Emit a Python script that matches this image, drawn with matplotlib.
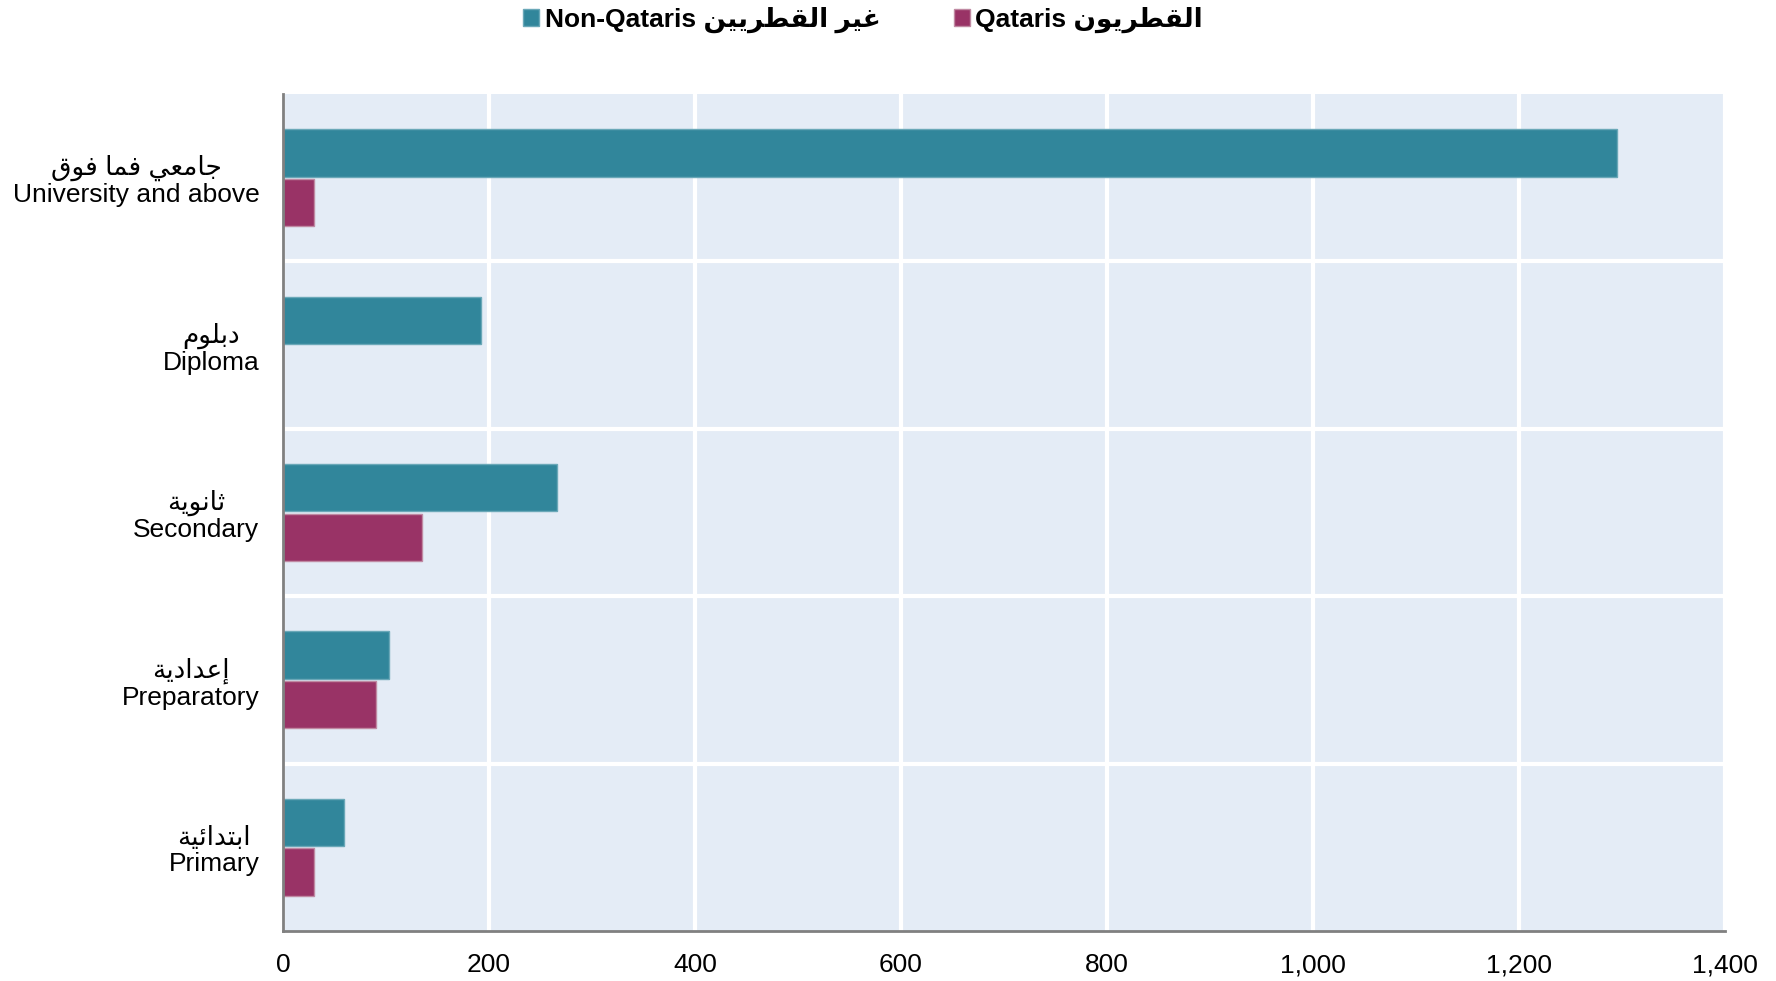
import matplotlib
matplotlib.use("Agg")
import matplotlib.pyplot as plt
from matplotlib.ticker import FuncFormatter, FixedLocator
import numpy as np

# data (top to bottom)
cats_en = ["University and above", "Diploma", "Secondary", "Preparatory", "Primary"]
cats_ar = ["جامعي فما فوق", "دبلوم", "ثانوية", "إعدادية", "ابتدائية"]
non_qataris = [1295, 192, 266, 103, 59]
qataris = [30, 0, 135, 90, 30]
legend_en = ["Non-Qataris", "Qataris"]
legend_ar = ["غير القطريين", "القطريون"]
xticks = [0, 200, 400, 600, 800, 1000, 1200, 1400]

teal = "#31869B"
plum = "#993366"
bg = "#E4ECF6"

# minimal arabic shaping (presentation forms + visual order)
FORMS = {
    "ا": (0xFE8D, 0xFE8E), "إ": (0xFE87, 0xFE88), "د": (0xFEA9, 0xFEAA),
    "ر": (0xFEAD, 0xFEAE), "ة": (0xFE93, 0xFE94), "و": (0xFEED, 0xFEEE),
    "ب": (0xFE8F, 0xFE90, 0xFE91, 0xFE92), "ت": (0xFE95, 0xFE96, 0xFE97, 0xFE98),
    "ث": (0xFE99, 0xFE9A, 0xFE9B, 0xFE9C), "ج": (0xFE9D, 0xFE9E, 0xFE9F, 0xFEA0),
    "ط": (0xFEC1, 0xFEC2, 0xFEC3, 0xFEC4), "ع": (0xFEC9, 0xFECA, 0xFECB, 0xFECC),
    "غ": (0xFECD, 0xFECE, 0xFECF, 0xFED0), "ف": (0xFED1, 0xFED2, 0xFED3, 0xFED4),
    "ق": (0xFED5, 0xFED6, 0xFED7, 0xFED8), "ل": (0xFEDD, 0xFEDE, 0xFEDF, 0xFEE0),
    "م": (0xFEE1, 0xFEE2, 0xFEE3, 0xFEE4), "ن": (0xFEE5, 0xFEE6, 0xFEE7, 0xFEE8),
    "ي": (0xFEF1, 0xFEF2, 0xFEF3, 0xFEF4), "ئ": (0xFE89, 0xFE8A, 0xFE8B, 0xFE8C),
}


def shape(s):
    out = []
    for i, ch in enumerate(s):
        if ch not in FORMS:
            out.append(ch)
            continue
        f = FORMS[ch]
        prev = s[i - 1] if i > 0 else ""
        nxt = s[i + 1] if i + 1 < len(s) else ""
        jp = prev in FORMS and len(FORMS[prev]) == 4
        jn = nxt in FORMS and len(f) == 4
        if jp and jn:
            c = f[3]
        elif jp:
            c = f[1]
        elif jn:
            c = f[2]
        else:
            c = f[0]
        out.append(chr(c))
    return "".join(out)[::-1]


plt.rcParams["font.family"] = ["Liberation Sans", "DejaVu Sans"]
plt.rcParams["font.size"] = 19

fig = plt.figure(figsize=(17.76, 9.81), dpi=100)
ax = fig.add_axes([0.1593, 0.051, 0.812, 0.8532])
ax.set_facecolor(bg)

y = np.arange(len(cats_en))
h = 0.282
ax.barh(y - 0.148, non_qataris, height=h, color=teal, edgecolor="#6AA8B8", linewidth=1,
        label=legend_en[0] + " " + shape(legend_ar[0]), zorder=3)
ax.barh(y + 0.148, qataris, height=h, color=plum, edgecolor="#C08AA3", linewidth=1,
        label=legend_en[1] + " " + shape(legend_ar[1]), zorder=3)

ax.set_ylim(len(cats_en) - 0.5, -0.5)
ax.set_xlim(0, 1400)
ax.set_xticks(xticks)
ax.xaxis.set_major_formatter(FuncFormatter(lambda v, p: f"{int(v):,}"))
ax.set_yticks(y)
ax.set_yticklabels([shape(a) + "\n" + e for a, e in zip(cats_ar, cats_en)])
for t in ax.get_yticklabels():
    t.set_multialignment("center")
    t.set_linespacing(1.1)
ax.yaxis.set_minor_locator(FixedLocator(np.arange(0.5, len(cats_en) - 0.5, 1)))
ax.tick_params(axis="both", which="both", length=0)
ax.tick_params(axis="x", pad=16)
ax.tick_params(axis="y", pad=17)

ax.grid(axis="x", which="major", color="white", linewidth=3, zorder=1)
ax.grid(axis="y", which="minor", color="white", linewidth=3, zorder=1)
ax.set_axisbelow(True)

for s in ["top", "right"]:
    ax.spines[s].set_visible(False)
for s in ["left", "bottom"]:
    ax.spines[s].set_color("#808080")
    ax.spines[s].set_linewidth(2)
    ax.spines[s].set_zorder(4)

fig.legend(loc="upper center", bbox_to_anchor=(0.486, 1.017), ncol=2, frameon=False,
           handlelength=0.6, handleheight=0.6, handletextpad=0.2, columnspacing=2.8,
           prop={"weight": "bold", "size": 19})

fig.savefig("out.png", dpi=100)
